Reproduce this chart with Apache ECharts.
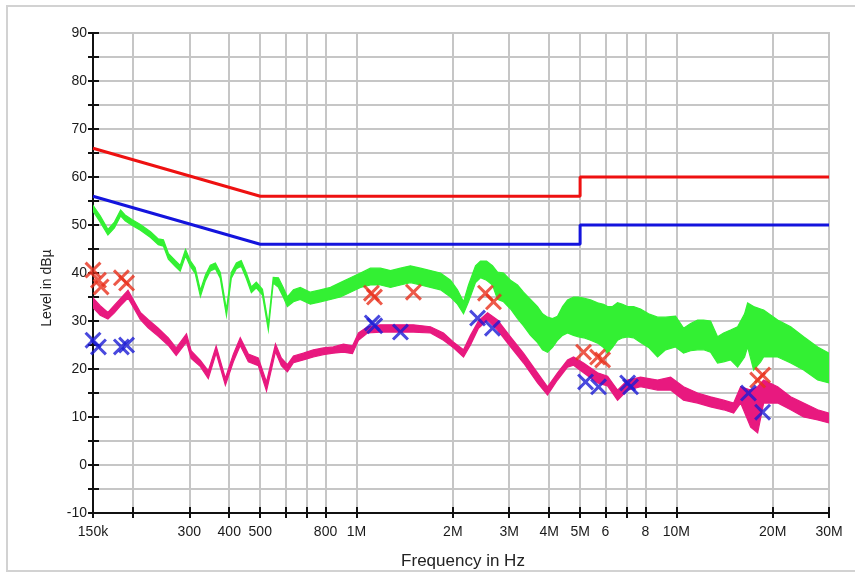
<!DOCTYPE html>
<html>
<head>
<meta charset="utf-8">
<script src="https://cdn.jsdelivr.net/npm/echarts@6/dist/echarts.min.js"></script>
<style>
html,body{margin:0;padding:0;background:#fff;}
#chart{width:855px;height:573px;}
</style>
</head>
<body>
<div id="chart"></div>
<script>
// ---- Data (frequencies in MHz, levels in dBµV) ----
const xTickFreqs = [0.15, 0.2, 0.3, 0.4, 0.5, 0.6, 0.7, 0.8, 1, 2, 3, 4, 5, 6, 7, 8, 10, 20, 30];
const xLabelFreqs = [0.15, 0.3, 0.4, 0.5, 0.8, 1, 2, 3, 4, 5, 6, 8, 10, 20, 30];
const xLabelTexts = ['150k', '300', '400', '500', '800', '1M', '2M', '3M', '4M', '5M', '6', '8', '10M', '20M', '30M'];

// Limit lines
const qpLimitFreq = [0.15, 0.5, 5, 5, 30];
const qpLimitLevel = [66, 56, 56, 60, 60];
const avLimitFreq = [0.15, 0.5, 5, 5, 30];
const avLimitLevel = [56, 46, 46, 50, 50];

// Peak trace (green) envelope
const pkFreq = [0.150,0.158,0.167,0.175,0.183,0.189,0.199,0.211,0.227,0.240,
  0.249,0.258,0.271,0.281,0.292,0.302,0.313,0.325,0.337,0.349,
  0.362,0.375,0.392,0.406,0.421,0.436,0.452,0.469,0.486,0.508,
  0.530,0.549,0.570,0.590,0.608,0.635,0.667,0.717,0.771,0.829,
  0.890,0.957,1.029,1.105,1.188,1.277,1.372,1.474,1.584,1.703,
  1.830,1.967,2.068,2.160,2.239,2.355,2.441,2.549,2.661,2.759,
  2.881,3.030,3.187,3.327,3.499,3.680,3.815,3.955,4.100,4.250,
  4.406,4.567,4.769,4.944,5.125,5.390,5.669,5.919,6.093,6.316,
  6.548,6.788,7.037,7.348,7.727,8.186,8.733,9.252,9.94,10.53,
  11.08,11.65,12.16,12.79,13.45,14.05,14.77,15.54,16.34,16.70,
  17.44,18.34,18.74,20.73,22.77,25.00,27.65,30.0];
const pkLow = [52.9,50.6,47.9,49.4,51.9,50.9,49.9,48.9,47.4,45.9,
  45.6,42.9,41.4,40.4,43.6,41.4,39.9,35.1,38.4,40.4,
  40.9,38.9,31.1,38.9,40.9,41.4,38.9,35.9,36.9,35.4,
  28.1,37.9,37,35,33,34,34.5,33.5,34,34.5,
  35,36,37,37.5,37.5,37,37.5,38,37.5,37,
  36.5,35,33.5,31.5,34,38,39,38.5,37.5,34.5,
  34,32.5,30.5,29,27,25.5,24,23.5,24.5,26,
  27,27.5,27,26.7,26.5,26,25.4,24.5,23.3,24.5,
  26,26.5,26.7,26.5,25.5,24.5,22.5,24,24.6,23.3,
  23.8,24,24,23.5,21.25,21.5,21.9,20.4,22.5,24.6,
  19.8,21.5,22.5,22.5,21.25,19.8,17.7,17.1];
const pkHigh = [54.1,51.9,49.1,50.6,53.1,52.1,51.1,50.1,48.6,47.1,
  46.9,44.1,42.6,41.6,44.9,42.6,41.1,36.4,39.6,41.6,
  42.1,40.1,32.4,40.1,42.1,42.6,40.1,37.1,38.1,36.6,
  29.4,39.1,39,37,35,36.5,37,36,36.5,37,
  38,39,40,41,41,40.5,41,41.5,41,40.5,
  40,38.5,36.5,34,37.5,41.5,42.5,42.5,41.5,40.2,
  40,38.5,37.5,36,34.5,33,31.5,30.8,30.5,31,
  33,34.4,35,35,34.8,34.4,33.8,33.5,33,33,
  33.8,33.5,33,33,32.5,31.5,30.8,30.8,31,28.5,
  29.5,30.2,30.2,30,26.7,27.5,28.1,28.8,31.5,33.75,
  33,32.5,32.3,30.2,28.8,26.7,24.6,23.3];

// Average trace (pink) envelope
const avFreq = [0.150,0.158,0.167,0.175,0.183,0.193,0.211,0.223,0.240,0.258,
  0.273,0.294,0.304,0.325,0.344,0.364,0.389,0.412,0.433,0.459,
  0.493,0.523,0.558,0.582,0.608,0.635,0.682,0.733,0.788,0.846,
  0.910,0.971,1.014,1.082,1.188,1.343,1.506,1.703,1.870,2.010,
  2.160,2.271,2.406,2.568,2.759,3.030,3.327,3.680,3.955,4.250,
  4.567,4.769,5.125,5.669,6.093,6.548,7.037,7.727,8.733,9.591,
  10.53,11.65,12.79,14.05,15.10,15.88,17.07,17.95,18.74,20.73,
  22.77,25.00,27.65,30.0];
const avLow = [32.8,31.2,30.4,31.7,33.2,34.8,30.3,28.6,26.8,24.9,
  22.8,25.6,22.2,20.5,18,23.3,16.6,21.5,24.9,21.5,
  20.7,15.4,23.6,20.7,19.4,21.3,21.9,22.5,23,23.3,
  23.5,23.2,26,27.5,27.7,27.7,27.7,27.5,26,24.4,
  22.5,25,28.5,30.2,28.1,24.6,21.25,17.1,14.6,17.7,
  20.4,20.8,19.2,17.1,16.5,13.5,15.6,16.3,15.6,15.6,
  13.5,12.9,12.1,11.5,10.8,12.9,7.9,6.7,12.9,12.9,
  11.5,10,9.4,8.75];
const avHigh = [34.8,33.2,31.8,33.3,34.7,36.4,31.8,30.3,28.5,26.5,
  24.4,27.3,23.8,21.8,19.6,24.8,18.1,23.1,26.5,23.1,
  22.3,17.3,25.2,22.3,20.9,22.7,23.3,24,24.4,24.6,
  25.2,24.8,27.5,28.8,29.2,29.2,29.2,28.8,27.5,25.6,
  24,27,30,31.7,30.2,26.7,23.3,19.2,16.3,19.2,
  21.9,22.5,21.25,19.2,18.5,15.6,17.7,18.3,17.7,18.3,
  16.3,15,14.2,13.5,12.9,16.3,15.6,16.3,17.7,16.3,
  14.2,12.9,11.5,10.8];

// Final measurement markers
const qpMarkFreq = [0.150, 0.156, 0.159, 0.184, 0.191, 1.113, 1.138, 1.506, 2.53, 2.68, 5.125, 5.67, 5.88, 17.95, 18.6];
const qpMarkLevel = [40.6, 38.5, 37.1, 39, 37.9, 35.8, 35, 36, 35.8, 34, 23.5, 22.5, 21.9, 17.7, 18.75];
const avMarkFreq = [0.150, 0.156, 0.184, 0.191, 1.12, 1.14, 1.372, 2.39, 2.66, 5.20, 5.71, 7.04, 7.19, 16.8, 18.6];
const avMarkLevel = [26, 24.6, 24.6, 25, 29.6, 29, 27.7, 30.6, 28.5, 17.3, 16.3, 17.1, 16.3, 15, 11];

// ---- Build ----
const FONT = "'Liberation Sans', Arial, Helvetica, sans-serif";
const lx = f => Math.log10(f * 1e6);
const xMin = lx(0.15), xMax = lx(30);
const tickVals = xTickFreqs.map(lx);
const labelVals = xLabelFreqs.map(lx);
const GRID = '#c6c6c6';

function pairs(fs, vs) { return fs.map((f, i) => [lx(f), vs[i]]); }

function band(name, fs, lo, hi, color, z) {
  const data = fs.map((f, i) => [lx(f), lo[i], hi[i]]);
  return {
    name, type: 'custom', coordinateSystem: 'cartesian2d', z,
    data, encode: { x: 0, y: [1, 2] }, clip: true, silent: true,
    renderItem: function (params, api) {
      if (params.dataIndex !== 0) return null;
      const top = data.map(d => api.coord([d[0], d[2]]));
      const bot = data.map(d => api.coord([d[0], d[1]])).reverse();
      return {
        type: 'polygon',
        shape: { points: top.concat(bot) },
        style: { fill: color, stroke: color, lineWidth: 1.2, lineJoin: 'miter' }
      };
    }
  };
}

const XSYM = 'path://M0,2L2,0L8,6L14,0L16,2L10,8L16,14L14,16L8,10L2,16L0,14L6,8Z';

const chart = echarts.init(document.getElementById('chart'), null, { renderer: 'canvas' });
chart.setOption({
  animation: false,
  backgroundColor: '#ffffff',
  textStyle: { fontFamily: FONT },
  grid: { left: 93, right: 26, top: 33, bottom: 60, show: true, borderColor: GRID, borderWidth: 2, backgroundColor: 'transparent' },
  xAxis: [{
    type: 'value', min: xMin, max: xMax, position: 'bottom',
    axisLine: { show: true, onZero: false, lineStyle: { color: '#111', width: 2 } },
    axisTick: { show: true, length: 5, customValues: tickVals, lineStyle: { color: '#111', width: 2 } },
    axisLabel: {
      customValues: labelVals, margin: 12, fontSize: 14, color: '#1a1a1a', fontFamily: FONT,
      formatter: v => { const i = labelVals.findIndex(t => Math.abs(t - v) < 1e-6); return i >= 0 ? xLabelTexts[i] : ''; }
    },
    splitLine: { show: true, lineStyle: { color: GRID, width: 2 } }
  }, {
    type: 'value', min: xMin, max: xMax, position: 'bottom', offset: 0,
    axisLine: { show: false, onZero: false },
    axisTick: { show: true, inside: true, length: 6, customValues: tickVals, lineStyle: { color: '#111', width: 2 } },
    axisLabel: { show: false }, splitLine: { show: false }
  }],
  yAxis: [{
    type: 'value', min: -10, max: 90, interval: 5, position: 'left',
    axisLine: { show: true, onZero: false, lineStyle: { color: '#111', width: 2 } },
    axisTick: { show: true, length: 5, lineStyle: { color: '#111', width: 2 } },
    axisLabel: { margin: 6, fontSize: 14, color: '#1a1a1a', fontFamily: FONT, formatter: v => (v % 10 === 0 ? String(v) : '') },
    splitLine: { show: true, lineStyle: { color: GRID, width: 2 } }
  }, {
    type: 'value', min: -10, max: 90, interval: 5, position: 'left', offset: 0,
    axisLine: { show: false, onZero: false },
    axisTick: { show: true, inside: true, length: 6, lineStyle: { color: '#111', width: 2 } },
    axisLabel: { show: false }, splitLine: { show: false }
  }],
  graphic: [
    { type: 'rect', shape: { x: 7, y: 6, width: 870, height: 565 }, style: { fill: 'none', stroke: '#d2d2d2', lineWidth: 2 }, silent: true, z: -10 },
    { type: 'text', x: 463, y: 561, style: { text: 'Frequency in Hz', font: '17px ' + FONT, fill: '#222', textAlign: 'center', textVerticalAlign: 'middle' } },
    { type: 'text', x: 47, y: 288, rotation: Math.PI / 2, style: { text: 'Level in dBµ', font: '14px ' + FONT, fill: '#222', textAlign: 'center', textVerticalAlign: 'middle' } }
  ],
  series: [
    band('Peak', pkFreq, pkLow, pkHigh, '#33f033', 2),
    band('Average', avFreq, avLow, avHigh, '#e8197f', 3),
    { name: 'QP limit', type: 'line', data: pairs(qpLimitFreq, qpLimitLevel), symbol: 'none', z: 4,
      lineStyle: { color: '#ee1111', width: 3 }, silent: true },
    { name: 'AV limit', type: 'line', data: pairs(avLimitFreq, avLimitLevel), symbol: 'none', z: 4,
      lineStyle: { color: '#1414dd', width: 3 }, silent: true },
    { name: 'QP final', type: 'scatter', data: pairs(qpMarkFreq, qpMarkLevel), symbol: XSYM, symbolSize: 17, z: 5,
      itemStyle: { color: '#e8301c' }, silent: true },
    { name: 'AV final', type: 'scatter', data: pairs(avMarkFreq, avMarkLevel), symbol: XSYM, symbolSize: 17, z: 5,
      itemStyle: { color: '#1c1cd6' }, silent: true }
  ]
});
</script>
</body>
</html>
